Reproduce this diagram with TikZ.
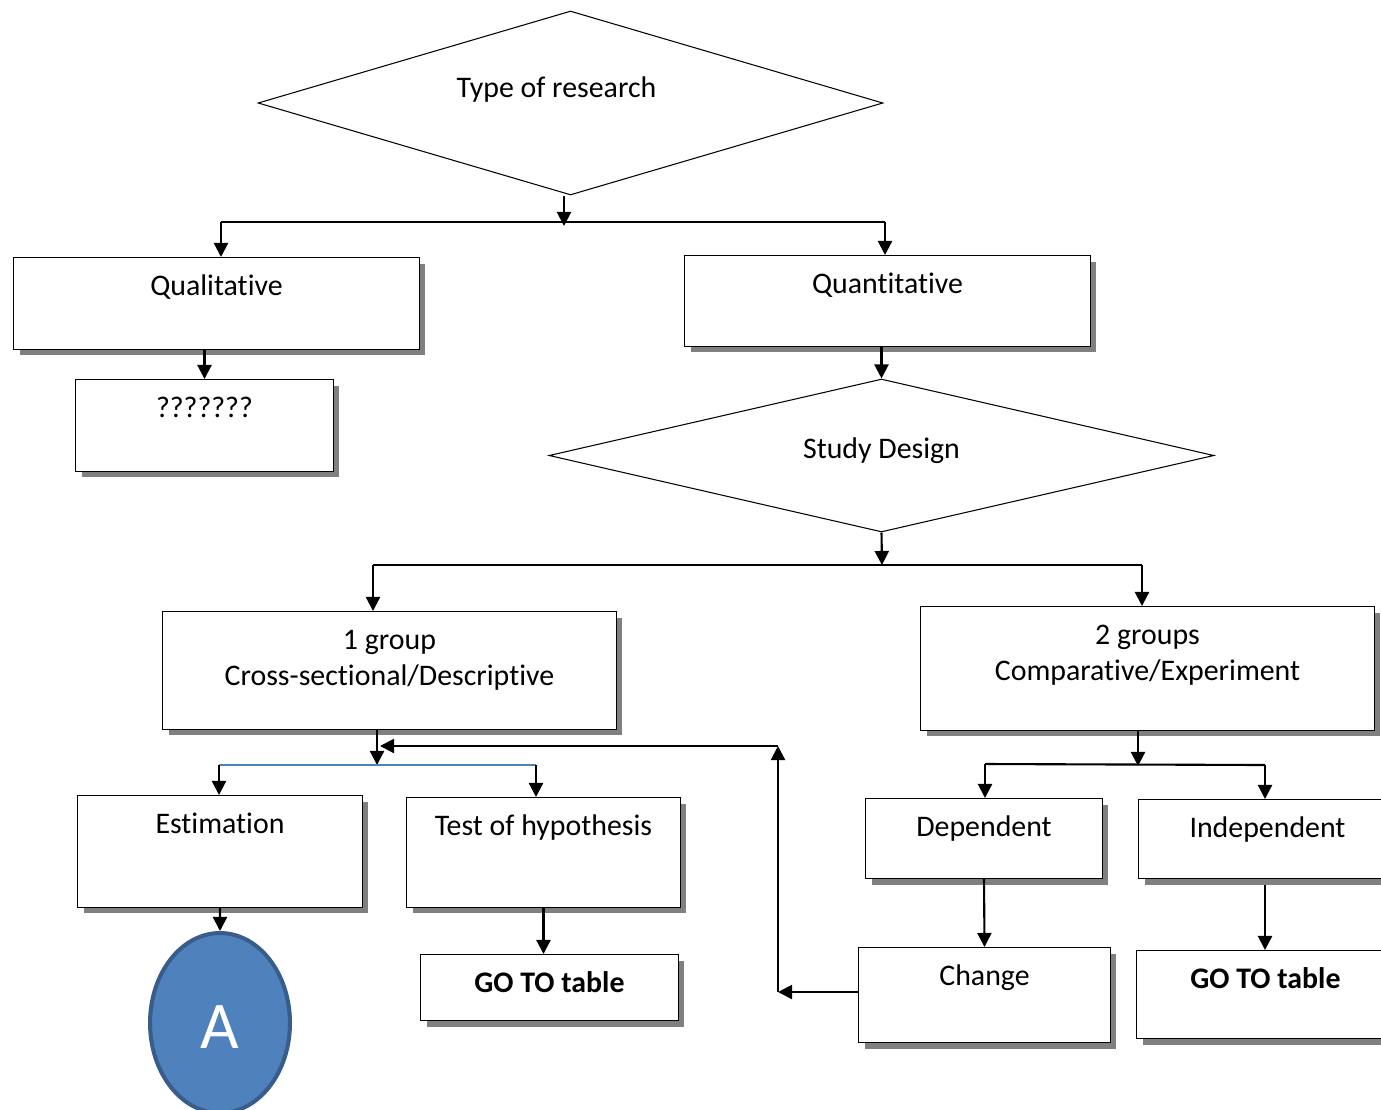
\documentclass[tikz,border=0pt]{standalone}
\usepackage{fontspec}
\setmainfont{Carlito}[Ligatures=NoCommon]
\usetikzlibrary{arrows.meta,shapes.geometric,shadows}
\definecolor{aBlue}{HTML}{4F81BD}
\definecolor{aDark}{HTML}{385D8A}

\begin{document}
\begin{tikzpicture}[x=0.02cm,y=-0.02cm,>={Triangle[length=8pt,width=8pt]},
                    font=\fontsize{17}{20.4}\selectfont]
  \tikzset{box/.style={draw=black,line width=0.6pt,fill=white,anchor=north west,inner sep=0pt,
             drop shadow={shadow xshift=3.4pt,shadow yshift=-3.4pt,fill=black!50,opacity=1}},
           dia/.style={diamond,draw=black,line width=0.6pt,inner sep=0pt},
           txt/.style={label={[anchor=base,align=center,yshift=-22pt]north:#1}},
           txttwo/.style={label={[anchor=base,align=center,yshift=-42.5pt]north:#1}},
           link/.style={->,line width=1.2pt},
           bar/.style={line width=0.6pt}}
  \useasboundingbox (0,0) rectangle (1381,1109);

  % decisions
  \node[dia,minimum width=12.5cm,minimum height=3.68cm,
        label={[anchor=base,xshift=-8pt,yshift=7.4pt]center:Type of research}] (type) at (570.5,103) {};
  \node[dia,minimum width=13.3cm,minimum height=3.06cm,
        label={[anchor=base,yshift=2.6pt]center:Study Design}] (design) at (881.5,455.5) {};

  % boxes
  \node[box,minimum width=8.12cm,minimum height=1.84cm,txt={Qualitative}]  (qual)  at (13,257)  {};
  \node[box,minimum width=5.16cm,minimum height=1.84cm,txt={???????}]      (qmark) at (75,379)  {};
  \node[box,minimum width=8.12cm,minimum height=1.82cm,txt={Quantitative}] (quant) at (684,255) {};
  \node[box,minimum width=9.08cm,minimum height=2.36cm,
        txttwo={1 group\\Cross-sectional/Descriptive}]                     (grp1)  at (162,611) {};
  \node[box,minimum width=9.08cm,minimum height=2.48cm,
        txttwo={2 groups\\Comparative/Experiment}]                         (grp2)  at (920,606) {};
  \node[box,minimum width=5.70cm,minimum height=2.24cm,txt={Estimation}]   (est)   at (77,795)  {};
  \node[box,minimum width=5.48cm,minimum height=2.20cm,txt={Test of hypothesis}] (test) at (406,797) {};
  \node[box,minimum width=5.16cm,minimum height=1.32cm,txt={\textbf{GO TO table}}] (gotoL) at (420,954) {};
  \node[box,minimum width=4.74cm,minimum height=1.60cm,txt={Dependent}]    (dep)   at (865,798) {};
  \node[box,minimum width=5.16cm,minimum height=1.58cm,txt={Independent}]  (indep) at (1138,799) {};
  \node[box,minimum width=5.04cm,minimum height=1.90cm,txt={Change}]       (change) at (858,947) {};
  \node[box,minimum width=5.16cm,minimum height=1.76cm,txt={\textbf{GO TO table}}] (gotoR) at (1136,950) {};

  \node[ellipse,draw=aDark,fill=aBlue,line width=2.3pt,minimum width=2.8cm,minimum height=3.6cm,
        text=white,text depth=0pt,font=\fontsize{38}{44}\selectfont] (A) at (220,1023) {\raisebox{-5pt}{A}};

  % junctions
  \coordinate (s1) at (564,226);
  \coordinate (b1l) at (221,222);
  \coordinate (b1r) at (885,222);
  \coordinate (s2) at (882,565);
  \coordinate (b2l) at (373,565);
  \coordinate (b2r) at (1142,565);
  \coordinate (s3) at (377,765);
  \coordinate (b3l) at (219,765);
  \coordinate (b3r) at (536,765);
  \coordinate (s4) at (1138,766);
  \coordinate (b4l) at (985,764);
  \coordinate (b4r) at (1265,765);
  \coordinate (f1) at (778,992);
  \coordinate (f2) at (778,746);
  \coordinate (f3) at (380,746);

  % connectors
  \draw[link] (type.south -| s1) -- (s1);
  \draw[bar] (b1l) -- (b1r);
  \draw[link] (b1l) -- (b1l |- qual.north);
  \draw[link] (b1r) -- (b1r |- quant.north);
  \draw[link] (qual.south -| qmark.north) -- (qmark.north);
  \draw[link] (quant.south -| design.north) -- (design.north);

  \draw[link] (design.south) -- (s2);
  \draw[line width=1.2pt] (b2l) -- (b2r);
  \draw[link] (b2l) -- (b2l |- grp1.north);
  \draw[link] (b2r) -- (b2r |- grp2.north);

  \draw[link] (grp1.south -| s3) -- (s3);
  \draw[aBlue,line width=0.8pt] (b3l) -- (b3r);
  \draw[link] (b3l) -- (b3l |- est.north);
  \draw[link] (b3r) -- (b3r |- test.north);

  \draw[link] (grp2.south -| s4) -- (s4);
  \draw[line width=1.2pt] (b4l) -- (b4r);
  \draw[link] (b4l) -- (b4l |- dep.north);
  \draw[link] (b4r) -- (b4r |- indep.north);

  \draw[link] (est.south) -- (A.north);
  \draw[link] (test.south) -- (test.south |- gotoL.north);
  \draw[link] (dep.south) -- (change.north);
  \draw[link] ([yshift=-3.4pt]indep.south -| b4r) -- (b4r |- gotoR.north);

  % back from change
  \draw[link] (change.west |- f1) -- (f1);
  \draw[link] (f1) -- (f2);
  \draw[link] (f2) -- (f3);
\end{tikzpicture}
\end{document}
